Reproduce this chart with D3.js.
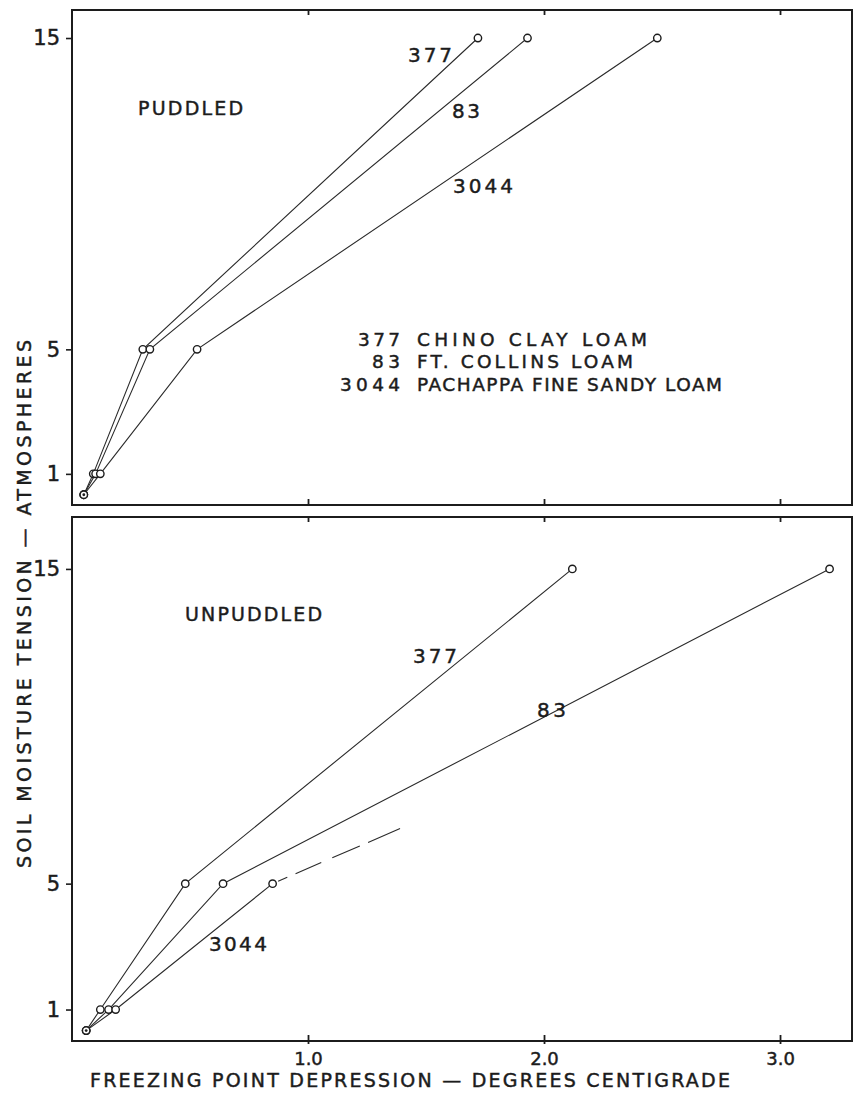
<!DOCTYPE html>
<html>
<head>
<meta charset="utf-8">
<script src="https://cdn.jsdelivr.net/npm/d3@7"></script>
<style>
  html, body { margin: 0; padding: 0; background: #fff; }
  svg { display: block; }
  text { font-family: "DejaVu Sans", "Liberation Sans", sans-serif; fill: #1c1c1c; stroke: #1c1c1c; stroke-width: 0.45px; }
</style>
</head>
<body>
<svg id="chart" width="855" height="1099"></svg>
<script>
// ---------------- DATA ----------------
const soils = ["377", "83", "3044"];
const soilNames = ["CHINO CLAY LOAM", "FT. COLLINS LOAM", "PACHAPPA FINE SANDY LOAM"];
const tension = [0.33, 1, 5, 15];               // atmospheres
const tension3044Unpuddled = [0.33, 1, 5];

// freezing point depression (°C), puddled
const puddled377  = [0.05, 0.09, 0.30, 1.72];
const puddled83   = [0.05, 0.10, 0.33, 1.93];
const puddled3044 = [0.05, 0.12, 0.53, 2.48];

// unpuddled
const unpuddled377  = [0.06, 0.12, 0.48, 2.12];
const unpuddled83   = [0.06, 0.155, 0.64, 3.21];
const unpuddled3044 = [0.06, 0.185, 0.85];

// dashed extrapolation of 3044 unpuddled
const extrap3044X = [0.85, 1.39];
const extrap3044Y = [5, 6.75];

const xTicks = [1, 2, 3];
const yTicks = [1, 5, 15];

const panelTitles = ["PUDDLED", "UNPUDDLED"];
const xTitle = "FREEZING POINT DEPRESSION \u2014 DEGREES CENTIGRADE";
const yTitle = "SOIL MOISTURE TENSION \u2014 ATMOSPHERES";

// curve label anchors (data coords: x, y) for each panel
const topLabelX = [1.424, 1.61, 1.614];
const topLabelY = [14.23, 12.43, 10.02];
const botLabelX = [1.445, 1.97, 0.58];
const botLabelY = [12.01, 10.30, 2.86];

// ---------------- LAYOUT ----------------
const svg = d3.select("#chart");
const ink = "#1c1c1c";
const left = 72, right = 852;

const x = d3.scaleLinear().domain([0, 3.305]).range([left, right]);

const panels = [
  { top: 10,  bottom: 505, ymax: 15.9,
    series: [
      { name: soils[0], xs: puddled377,  ys: tension },
      { name: soils[1], xs: puddled83,   ys: tension },
      { name: soils[2], xs: puddled3044, ys: tension }
    ],
    title: panelTitles[0], titleAt: [0.28, 12.53], titleLen: 105,
    labelX: topLabelX, labelY: topLabelY,
    labelLen: [44, 28, 60]
  },
  { top: 517, bottom: 1041, ymax: 16.65,
    series: [
      { name: soils[0], xs: unpuddled377,  ys: tension },
      { name: soils[1], xs: unpuddled83,   ys: tension },
      { name: soils[2], xs: unpuddled3044, ys: tension3044Unpuddled }
    ],
    title: panelTitles[1], titleAt: [0.479, 13.35], titleLen: 137,
    labelX: botLabelX, labelY: botLabelY,
    labelLen: [44, 29, 58]
  }
];

panels.forEach((p, pi) => {
  const y = d3.scaleLinear().domain([0, p.ymax]).range([p.bottom, p.top]);
  const g = svg.append("g");

  // frame
  g.append("rect")
    .attr("x", left).attr("y", p.top)
    .attr("width", right - left).attr("height", p.bottom - p.top)
    .attr("fill", "none").attr("stroke", ink).attr("stroke-width", 2);

  // y axis (left, outside ticks)
  const ya = g.append("g").attr("transform", `translate(${left},0)`)
    .call(d3.axisLeft(y).tickValues(yTicks).tickFormat(d3.format("d")).tickSize(6).tickPadding(6));
  ya.select(".domain").remove();
  ya.selectAll("line").attr("stroke", ink).attr("stroke-width", 1.6);
  ya.selectAll("text").attr("font-size", 21).attr("fill", ink)
    .attr("font-family", "DejaVu Sans, sans-serif");

  // inner x ticks on the top edge
  const xt = g.append("g").attr("transform", `translate(0,${p.top})`)
    .call(d3.axisBottom(x).tickValues(xTicks).tickSize(5).tickFormat(""));
  xt.select(".domain").remove();
  xt.selectAll("line").attr("stroke", ink).attr("stroke-width", 1.8);

  // x ticks on the bottom edge
  const xb = g.append("g").attr("transform", `translate(0,${p.bottom})`)
    .call(d3.axisBottom(x).tickValues(xTicks).tickSize(pi === 1 ? 3 : 0)
      .tickFormat(pi === 1 ? d3.format(".1f") : ""));
  xb.select(".domain").remove();
  xb.selectAll("line").attr("y1", -6).attr("stroke", ink).attr("stroke-width", 1.8);
  xb.selectAll("text").attr("y", 24).attr("dy", 0)
    .attr("font-size", 18).attr("fill", ink)
    .attr("font-family", "DejaVu Sans, sans-serif");

  // lines
  const line = d3.line().x(d => x(d[0])).y(d => y(d[1]));
  p.series.forEach(s => {
    const pts = s.xs.map((v, i) => [v, s.ys[i]]);
    g.append("path").attr("d", line(pts))
      .attr("fill", "none").attr("stroke", "#2a2a2a").attr("stroke-width", 1.1);
  });

  // dashed extension (unpuddled 3044)
  if (pi === 1) {
    const pts = extrap3044X.map((v, i) => [v, extrap3044Y[i]]);
    g.append("path").attr("d", line(pts))
      .attr("fill", "none").attr("stroke", "#2a2a2a").attr("stroke-width", 1.1)
      .attr("stroke-dasharray", "0,6,10,9,28,12,30,9,33");
  }

  // points
  p.series.forEach(s => {
    const pts = s.xs.map((v, i) => [v, s.ys[i]]);
    g.selectAll(null).data(pts).enter().append("circle")
      .attr("cx", d => x(d[0])).attr("cy", d => y(d[1]))
      .attr("r", 3.7).attr("fill", "#fff")
      .attr("stroke", ink).attr("stroke-width", 1.4);
  });
  // dot in common starting point
  const s0 = p.series[0];
  g.append("circle").attr("cx", x(s0.xs[0])).attr("cy", y(s0.ys[0]))
    .attr("r", 1.4).attr("fill", ink);

  // panel title
  g.append("text").attr("x", x(p.titleAt[0])).attr("y", y(p.titleAt[1]))
    .attr("font-size", 19).attr("textLength", p.titleLen).attr("lengthAdjust", "spacing")
    .text(p.title);

  // curve labels
  p.series.forEach((s, i) => {
    g.append("text").attr("x", x(p.labelX[i])).attr("y", y(p.labelY[i]))
      .attr("font-size", 20).attr("textLength", p.labelLen[i]).attr("lengthAdjust", "spacing")
      .text(s.name);
  });

  // legend (top panel)
  if (pi === 0) {
    const legY = [5.11, 4.40, 3.66];
    const numLen = [42, 28, 60];
    const nameLen = [230, 216, 305];
    soils.forEach((s, i) => {
      g.append("text").attr("x", x(1.39)).attr("y", y(legY[i]))
        .attr("text-anchor", "end").attr("font-size", 18.5)
        .attr("textLength", numLen[i]).attr("lengthAdjust", "spacing")
        .text(s);
      g.append("text").attr("x", x(1.462)).attr("y", y(legY[i]))
        .attr("font-size", 18.5)
        .attr("textLength", nameLen[i]).attr("lengthAdjust", "spacing")
        .text(soilNames[i]);
    });
  }
});

// axis titles
svg.append("text")
  .attr("x", 410).attr("y", 1087).attr("text-anchor", "middle")
  .attr("font-size", 19).attr("textLength", 640).attr("lengthAdjust", "spacing")
  .text(xTitle);

svg.append("text")
  .attr("transform", "translate(31,604) rotate(-90)")
  .attr("text-anchor", "middle")
  .attr("font-size", 19).attr("textLength", 528).attr("lengthAdjust", "spacing")
  .text(yTitle);
</script>
</body>
</html>
